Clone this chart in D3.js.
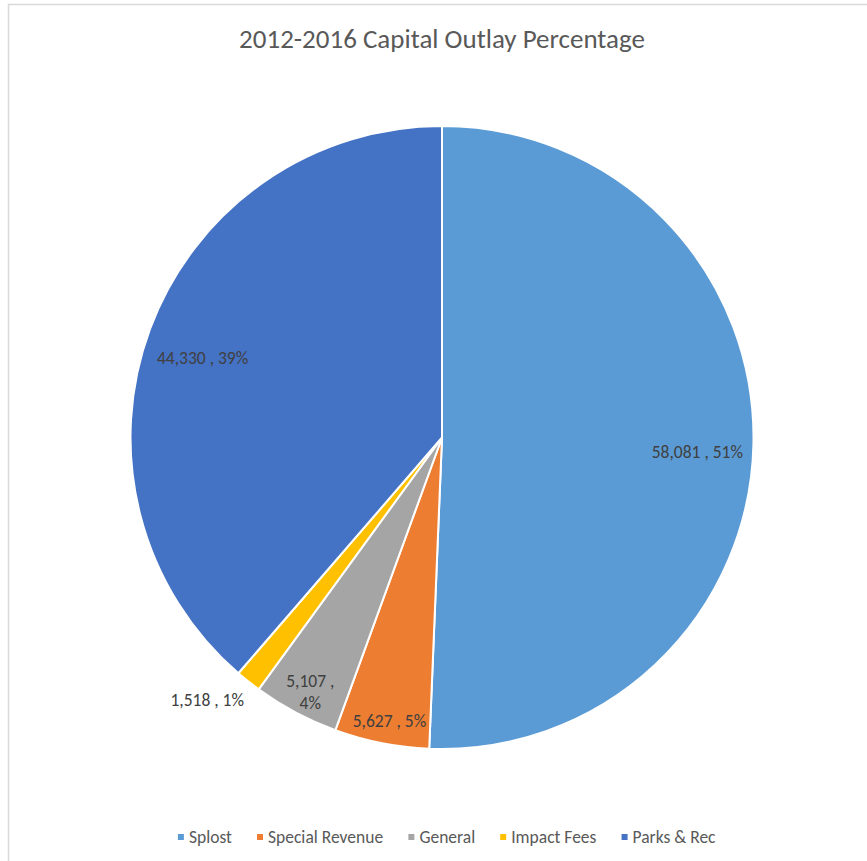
<!DOCTYPE html>
<html>
<head>
<meta charset="utf-8">
<script src="https://cdn.jsdelivr.net/npm/d3@7"></script>
<style>
  body { margin: 0; background: #fff; }
  svg { display: block; font-family: Carlito, Lato, "Open Sans", "Liberation Sans", sans-serif; }
</style>
</head>
<body>
<div id="chart"></div>
<script>
(function () {
// chart data
var categories = ["Splost", "Special Revenue", "General", "Impact Fees", "Parks & Rec"];
var values = [58081, 5627, 5107, 1518, 44330];
var colors = ["#5B9BD5", "#ED7D31", "#A5A5A5", "#FFC000", "#4472C4"];
var title = "2012-2016 Capital Outlay Percentage";

var width = 867, height = 861;
var cx = 442, cy = 437.5, radius = 311.5;

var svg = d3.select("#chart").append("svg")
    .attr("width", width)
    .attr("height", height);

// chart area border (only top/left visible in the shot)
svg.append("rect")
    .attr("x", 8.5).attr("y", 4.5)
    .attr("width", 1000).attr("height", 1000)
    .attr("fill", "none")
    .attr("stroke", "#D9D9D9")
    .attr("stroke-width", 1.5);

svg.append("text")
    .attr("x", 442).attr("y", 48)
    .attr("text-anchor", "middle")
    .attr("fill", "#595959")
    .style("font-size", "27px")
    .text(title);

var data = categories.map(function (c, i) { return { name: c, value: values[i], color: colors[i] }; });
var total = d3.sum(values);

var pie = d3.pie().sort(null).value(function (d) { return d.value; });
var arcs = pie(data);
var arc = d3.arc().innerRadius(0).outerRadius(radius);

var g = svg.append("g").attr("transform", "translate(" + cx + "," + cy + ")");

g.selectAll(".slice")
    .data(arcs)
    .enter().append("path")
    .attr("class", "slice")
    .attr("d", arc)
    .attr("fill", function (d) { return d.data.color; })
    .attr("stroke", "#fff")
    .attr("stroke-width", 2);

var fmt = d3.format(",");
var pct = function (v) { return Math.round(v / total * 100) + "%"; };

// best-fit style label placement: big slices inside, small near rim, tiny outside
function labelPos(d) {
  var share = d.data.value / total;
  var a = (d.startAngle + d.endAngle) / 2;
  var f = 0.82, nx = 0, ny = 9;
  if (share < 0.02) { f = 1.13; nx = -16; ny = -13; }
  else if (share < 0.1) { f = 0.92; nx = 3; ny = 2; }
  return [Math.sin(a) * radius * f + nx, -Math.cos(a) * radius * f + ny];
}

var labels = g.selectAll(".lbl")
    .data(arcs)
    .enter().append("text")
    .attr("class", "lbl")
    .attr("text-anchor", "middle")
    .attr("fill", "#404040")
    .style("font-size", "17.5px")
    .attr("transform", function (d) { return "translate(" + labelPos(d) + ")"; });

labels.each(function (d) {
  var t = d3.select(this);
  var share = d.data.value / total;
  if (share > 0.02 && share < 0.048) {
    // narrow slice: value wraps onto two lines
    t.append("tspan").attr("x", 0).attr("dy", "-0.3em").text(fmt(d.data.value) + " ,");
    t.append("tspan").attr("x", 0).attr("dy", "1.25em").text(pct(d.data.value));
  } else {
    t.append("tspan").attr("x", 0).attr("dy", "0.35em").text(fmt(d.data.value) + " , " + pct(d.data.value));
  }
});

// legend
var legend = svg.append("g").attr("transform", "translate(0,837)");
var item = legend.selectAll(".leg")
    .data(data)
    .enter().append("g")
    .attr("class", "leg");

item.append("rect")
    .attr("width", 6).attr("height", 6)
    .attr("y", -3)
    .attr("fill", function (d) { return d.color; });

item.append("text")
    .attr("x", 11)
    .attr("dy", "0.35em")
    .attr("fill", "#595959")
    .style("font-size", "17.5px")
    .text(function (d) { return d.name; });

// lay legend items out in a centred row
var gap = 25, x = 0, widths = [];
item.each(function () { widths.push(this.getBBox().width); });
var full = d3.sum(widths) + gap * (widths.length - 1);
x = 447 - full / 2;
item.attr("transform", function (d, i) {
  var pos = x;
  x += widths[i] + gap;
  return "translate(" + pos + ",0)";
});

})();
</script>
</body>
</html>
